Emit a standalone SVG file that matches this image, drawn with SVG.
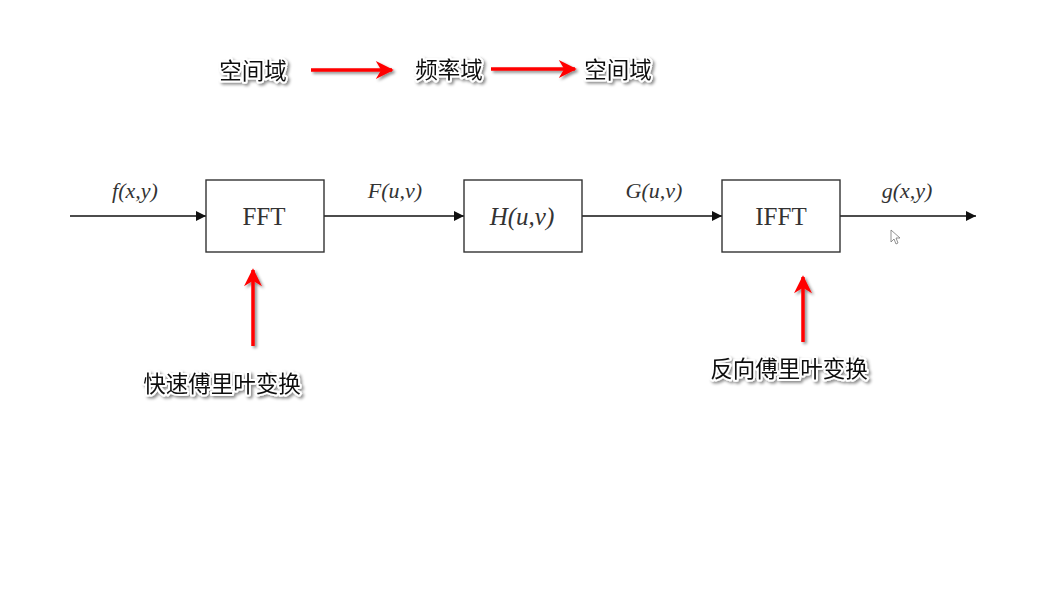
<svg xmlns="http://www.w3.org/2000/svg" width="1061" height="603" viewBox="0 0 1061 603">
<defs>
<style>
.cn{font-family:"Noto Sans CJK SC","Liberation Sans",sans-serif;font-size:22.5px;fill:#111;stroke:#fff;stroke-width:4px;stroke-linejoin:round;paint-order:stroke;text-anchor:middle}
.box{fill:#fff;stroke:#333;stroke-width:1.4}
.bt{font-family:"Liberation Serif",serif;font-size:25px;fill:#333;text-anchor:middle}
.lab{font-family:"Liberation Serif",serif;font-size:22px;font-style:italic;fill:#333;text-anchor:middle}
.ln{stroke:#111;stroke-width:1.4;fill:none}
.red{stroke:#f00;stroke-width:3.5;fill:none}
</style>
<filter id="sh" x="-20%" y="-40%" width="150%" height="190%">
<feDropShadow dx="2" dy="2" stdDeviation="1.5" flood-color="#000" flood-opacity="0.45"/>
</filter>
<marker id="ah" viewBox="0 0 10 10" refX="10" refY="5" markerWidth="15" markerHeight="10" markerUnits="userSpaceOnUse" orient="auto">
<path d="M0,0 L10,5 L0,10 Z" fill="#111"/>
</marker>
<marker id="rh" viewBox="0 0 10 10" refX="9" refY="5" markerWidth="22" markerHeight="18" markerUnits="userSpaceOnUse" orient="auto">
<path d="M0,0 L10,5 L0,10 L3,5 Z" fill="#f00"/>
</marker>
</defs>
<rect width="1061" height="603" fill="#fff"/>
<g id="connectors">
<line class="ln" x1="70" y1="216" x2="206" y2="216" marker-end="url(#ah)"/>
<line class="ln" x1="324" y1="216" x2="464" y2="216" marker-end="url(#ah)"/>
<line class="ln" x1="582" y1="216" x2="722" y2="216" marker-end="url(#ah)"/>
<line class="ln" x1="840" y1="216" x2="976" y2="216" marker-end="url(#ah)"/>
<g filter="url(#sh)">
<line class="red" x1="311" y1="70" x2="392" y2="70" marker-end="url(#rh)"/>
<line class="red" x1="491" y1="69" x2="575" y2="69" marker-end="url(#rh)"/>
<line class="red" x1="253" y1="346" x2="253" y2="270" marker-end="url(#rh)"/>
<line class="red" x1="803" y1="342" x2="803" y2="277" marker-end="url(#rh)"/>
</g>
</g>
<g id="labels">
<text class="lab" x="135" y="198">f(x,y)</text>
<text class="lab" x="395" y="198">F(u,v)</text>
<text class="lab" x="654" y="198">G(u,v)</text>
<text class="lab" x="907" y="198">g(x,y)</text>
</g>
<g id="fft"><rect class="box" x="206" y="180" width="118" height="72"/><text class="bt" x="264" y="225">FFT</text></g>
<g id="h"><rect class="box" x="464" y="180" width="118" height="72"/><text class="bt" x="522" y="225" font-style="italic">H(u,v)</text></g>
<g id="ifft"><rect class="box" x="722" y="180" width="118" height="72"/><text class="bt" x="781" y="225">IFFT</text></g>
<g id="top" filter="url(#sh)">
<text class="cn" x="253" y="79">空间域</text>
<text class="cn" x="449" y="78">频率域</text>
<text class="cn" x="618" y="78">空间域</text>
</g>
<g id="notes" filter="url(#sh)">
<text class="cn" x="222" y="392">快速傅里叶变换</text>
<text class="cn" x="789" y="377">反向傅里叶变换</text>
</g>
<g id="cursor"><path d="M891,230 L891,242 L894,239 L896,244 L898,243 L896,238 L900,238 Z" fill="#fff" stroke="#777" stroke-width="0.8"/></g>
</svg>
